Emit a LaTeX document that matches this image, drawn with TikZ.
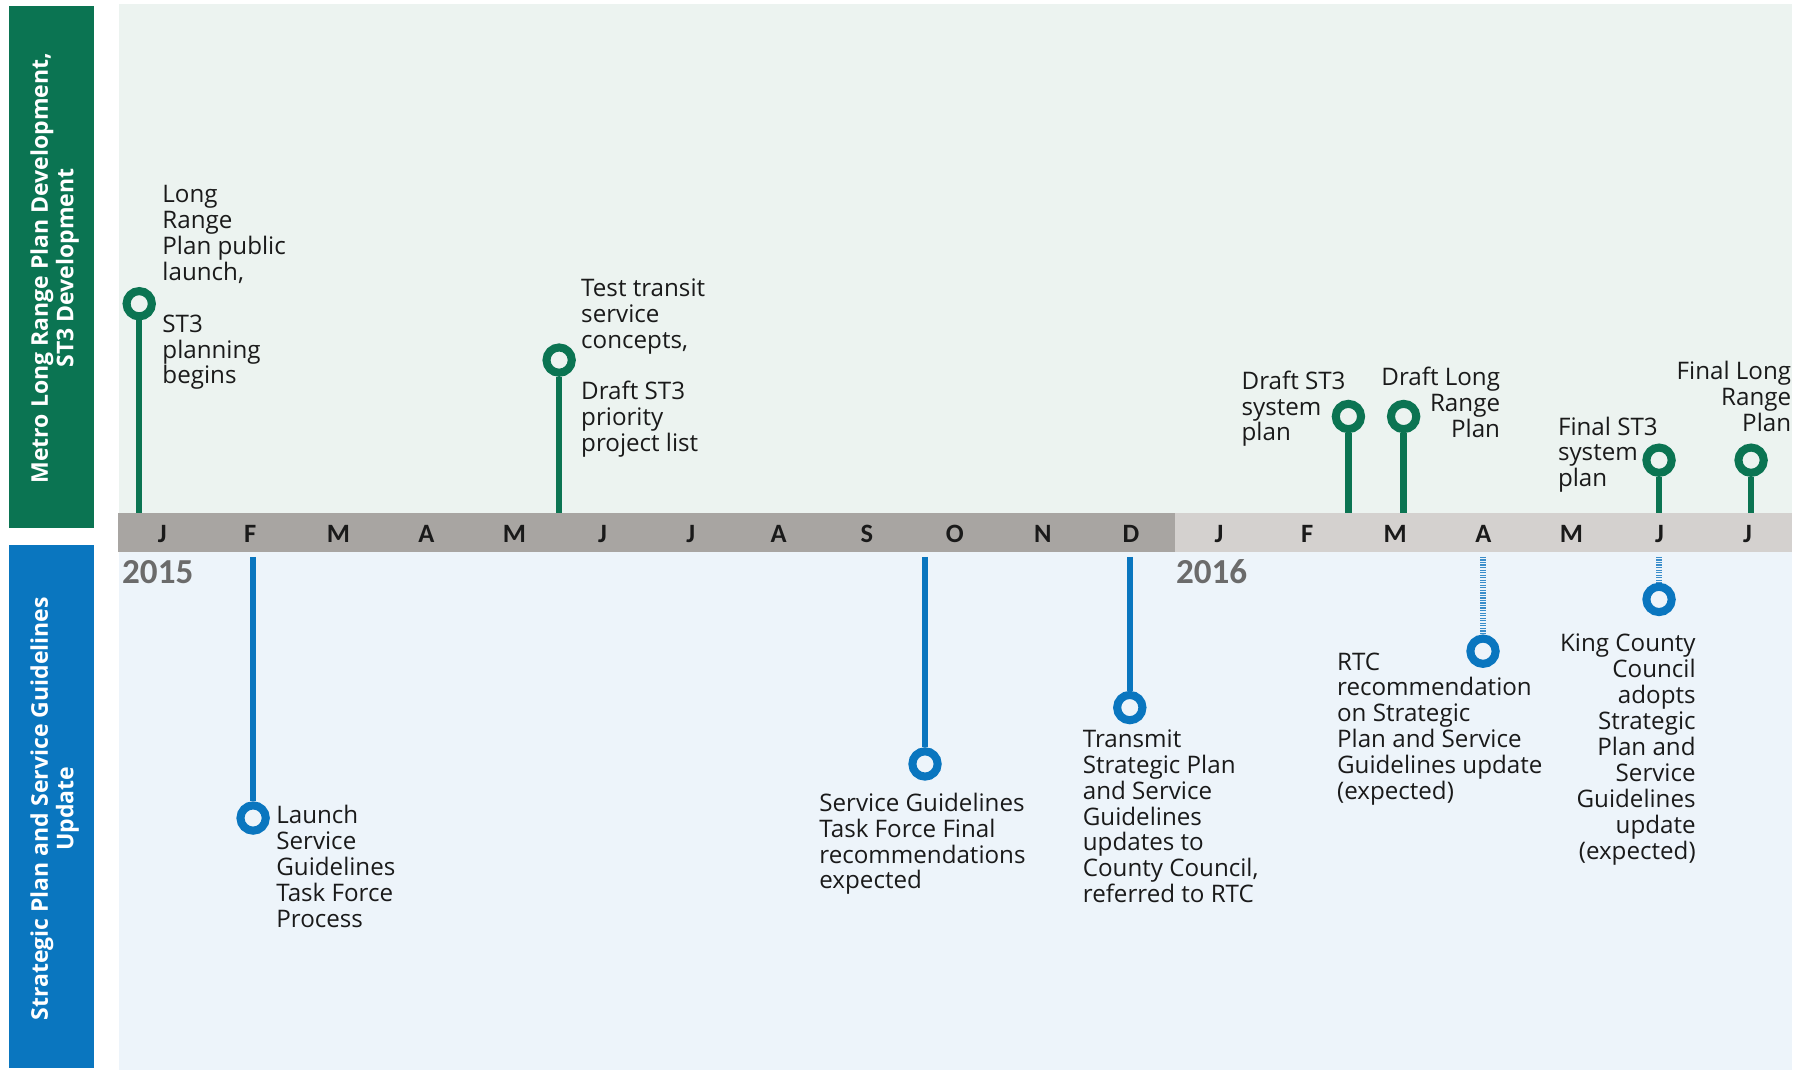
\documentclass[tikz,border=0pt]{standalone}
\usepackage{fontspec}
\setmainfont{Open Sans}
\newfontfamily\carl{Carlito}
\definecolor{gmain}{HTML}{0B7452}
\definecolor{bmain}{HTML}{0A76BF}
\definecolor{bdotc}{HTML}{3A8DCA}
\definecolor{upbg}{HTML}{ECF3F0}
\definecolor{lowbg}{HTML}{EDF4FA}
\definecolor{barA}{HTML}{A8A5A2}
\definecolor{barB}{HTML}{D4D1CF}
\definecolor{yeargray}{HTML}{6B6B6B}
\definecolor{txt}{HTML}{1A1A1A}
\newcommand\lblfont{\fontsize{21pt}{22.5pt}\selectfont}
\tikzset{
  bandtxt/.style={text=white, font=\bfseries\fontsize{20pt}{22pt}\selectfont, align=center, inner sep=0pt},
  monthlbl/.style={text=txt, font=\carl\bfseries\fontsize{23pt}{26pt}\selectfont, inner sep=0pt},
  yearlbl/.style={text=yeargray, font=\carl\bfseries\fontsize{30.5pt}{32pt}\selectfont, inner sep=0pt, anchor=west},
  lblL/.style={text=txt, font=\lblfont, align=left, inner sep=0pt, anchor=north west},
  lblR/.style={text=txt, font=\lblfont, align=right, inner sep=0pt, anchor=north east},
  gring/.style={circle, draw=gmain, line width=7pt, minimum size=22pt, inner sep=0pt, fill=upbg},
  bring/.style={circle, draw=bmain, line width=7pt, minimum size=22pt, inner sep=0pt, fill=lowbg},
  gstem/.style={draw=gmain, line width=5.5pt},
  bstem/.style={draw=bmain, line width=5.5pt},
  bdot/.style={draw=bdotc, line width=5pt, dash pattern=on 1.1pt off 1.1pt}
}
\begin{document}
\begin{tikzpicture}[x=1pt,y=-1pt]
\useasboundingbox (0,0) rectangle (1568,930);
\fill[white] (0,0) rectangle (1568,930);
% panels
\fill[upbg] (103,3.5) rectangle (1557.5,446);
\fill[lowbg] (103,480) rectangle (1557.5,930);
\fill[barA] (102.7,446) rectangle (1021,480);
\fill[barB] (1021,446) rectangle (1557.5,480);
\fill[gmain] (8,5) rectangle (82,459);
\fill[bmain] (8,474) rectangle (82,928);
% band titles
\node[bandtxt, rotate=90] (gtitle) at (47.5,233) {Metro Long Range Plan Development,\\ST3 Development};
\node[bandtxt, rotate=90] (btitle) at (47.5,703) {Strategic Plan and Service Guidelines\\Update};
% months
\foreach \m [count=\i from 0] in {J,F,M,A,M,J,J,A,S,O,N,D,J,F,M,A,M,J,J}
  \node[monthlbl] (m\i) at (141+76.55*\i,464) {\m};
% years
\node[yearlbl] (y2015) at (106,497) {2015};
\node[yearlbl] (y2016) at (1022,497) {2016};
% green milestones
\node[gring] (g1) at (121,264) {};
\node[gring] (g2) at (486,313) {};
\node[gring] (g3) at (1172,362) {};
\node[gring] (g4) at (1220,362) {};
\node[gring] (g5) at (1442,400) {};
\node[gring] (g6) at (1522,400) {};
\foreach \n/\x in {g1/121,g2/486,g3/1172,g4/1220,g5/1442,g6/1522}{
  \coordinate (\n t) at (\x,446);
  \draw[gstem] (\n) -- (\n t);
}
% blue milestones
\node[bring] (b1) at (220,711) {};
\node[bring] (b2) at (804,664) {};
\node[bring] (b3) at (982,615) {};
\node[bring] (b4) at (1289,566) {};
\node[bring] (b5) at (1442,521) {};
\foreach \n/\x in {b1/220,b2/804,b3/982}{
  \coordinate (\n t) at (\x,484);
  \draw[bstem] (\n t) -- (\n);
}
\foreach \n/\x in {b4/1289,b5/1442}{
  \coordinate (\n t) at (\x,484);
  \draw[bdot] (\n t) -- (\n);
}
% upper labels
\node[lblL] (tA) at (141,161) {Long\\Range\\Plan public\\launch,\\[22.5pt]ST3\\planning\\begins};
\node[lblL] (tB) at (505,242) {Test transit\\service\\concepts,\\[22.5pt]Draft ST3\\priority\\project list};
\node[lblL] (tC) at (1079,322) {Draft ST3\\system\\plan};
\node[lblR] (tD) at (1304,319) {Draft Long\\Range\\Plan};
\node[lblL] (tE) at (1354,362) {Final ST3\\system\\plan};
\node[lblR] (tF) at (1557,314) {Final Long\\Range\\Plan};
% lower labels
\node[lblL] (tG) at (240,700) {Launch\\Service\\Guidelines\\Task Force\\Process};
\node[lblL] (tH) at (712,689) {Service Guidelines\\Task Force Final\\recommendations\\expected};
\node[lblL] (tI) at (941,634) {Transmit\\Strategic Plan\\and Service\\Guidelines\\updates to\\County Council,\\referred to RTC};
\node[lblL] (tJ) at (1162,567) {RTC\\recommendation\\on Strategic\\Plan and Service\\Guidelines update\\(expected)};
\node[lblR] (tK) at (1474,551) {King County\\Council\\adopts\\Strategic\\Plan and\\Service\\Guidelines\\update\\(expected)};
\end{tikzpicture}
\end{document}
